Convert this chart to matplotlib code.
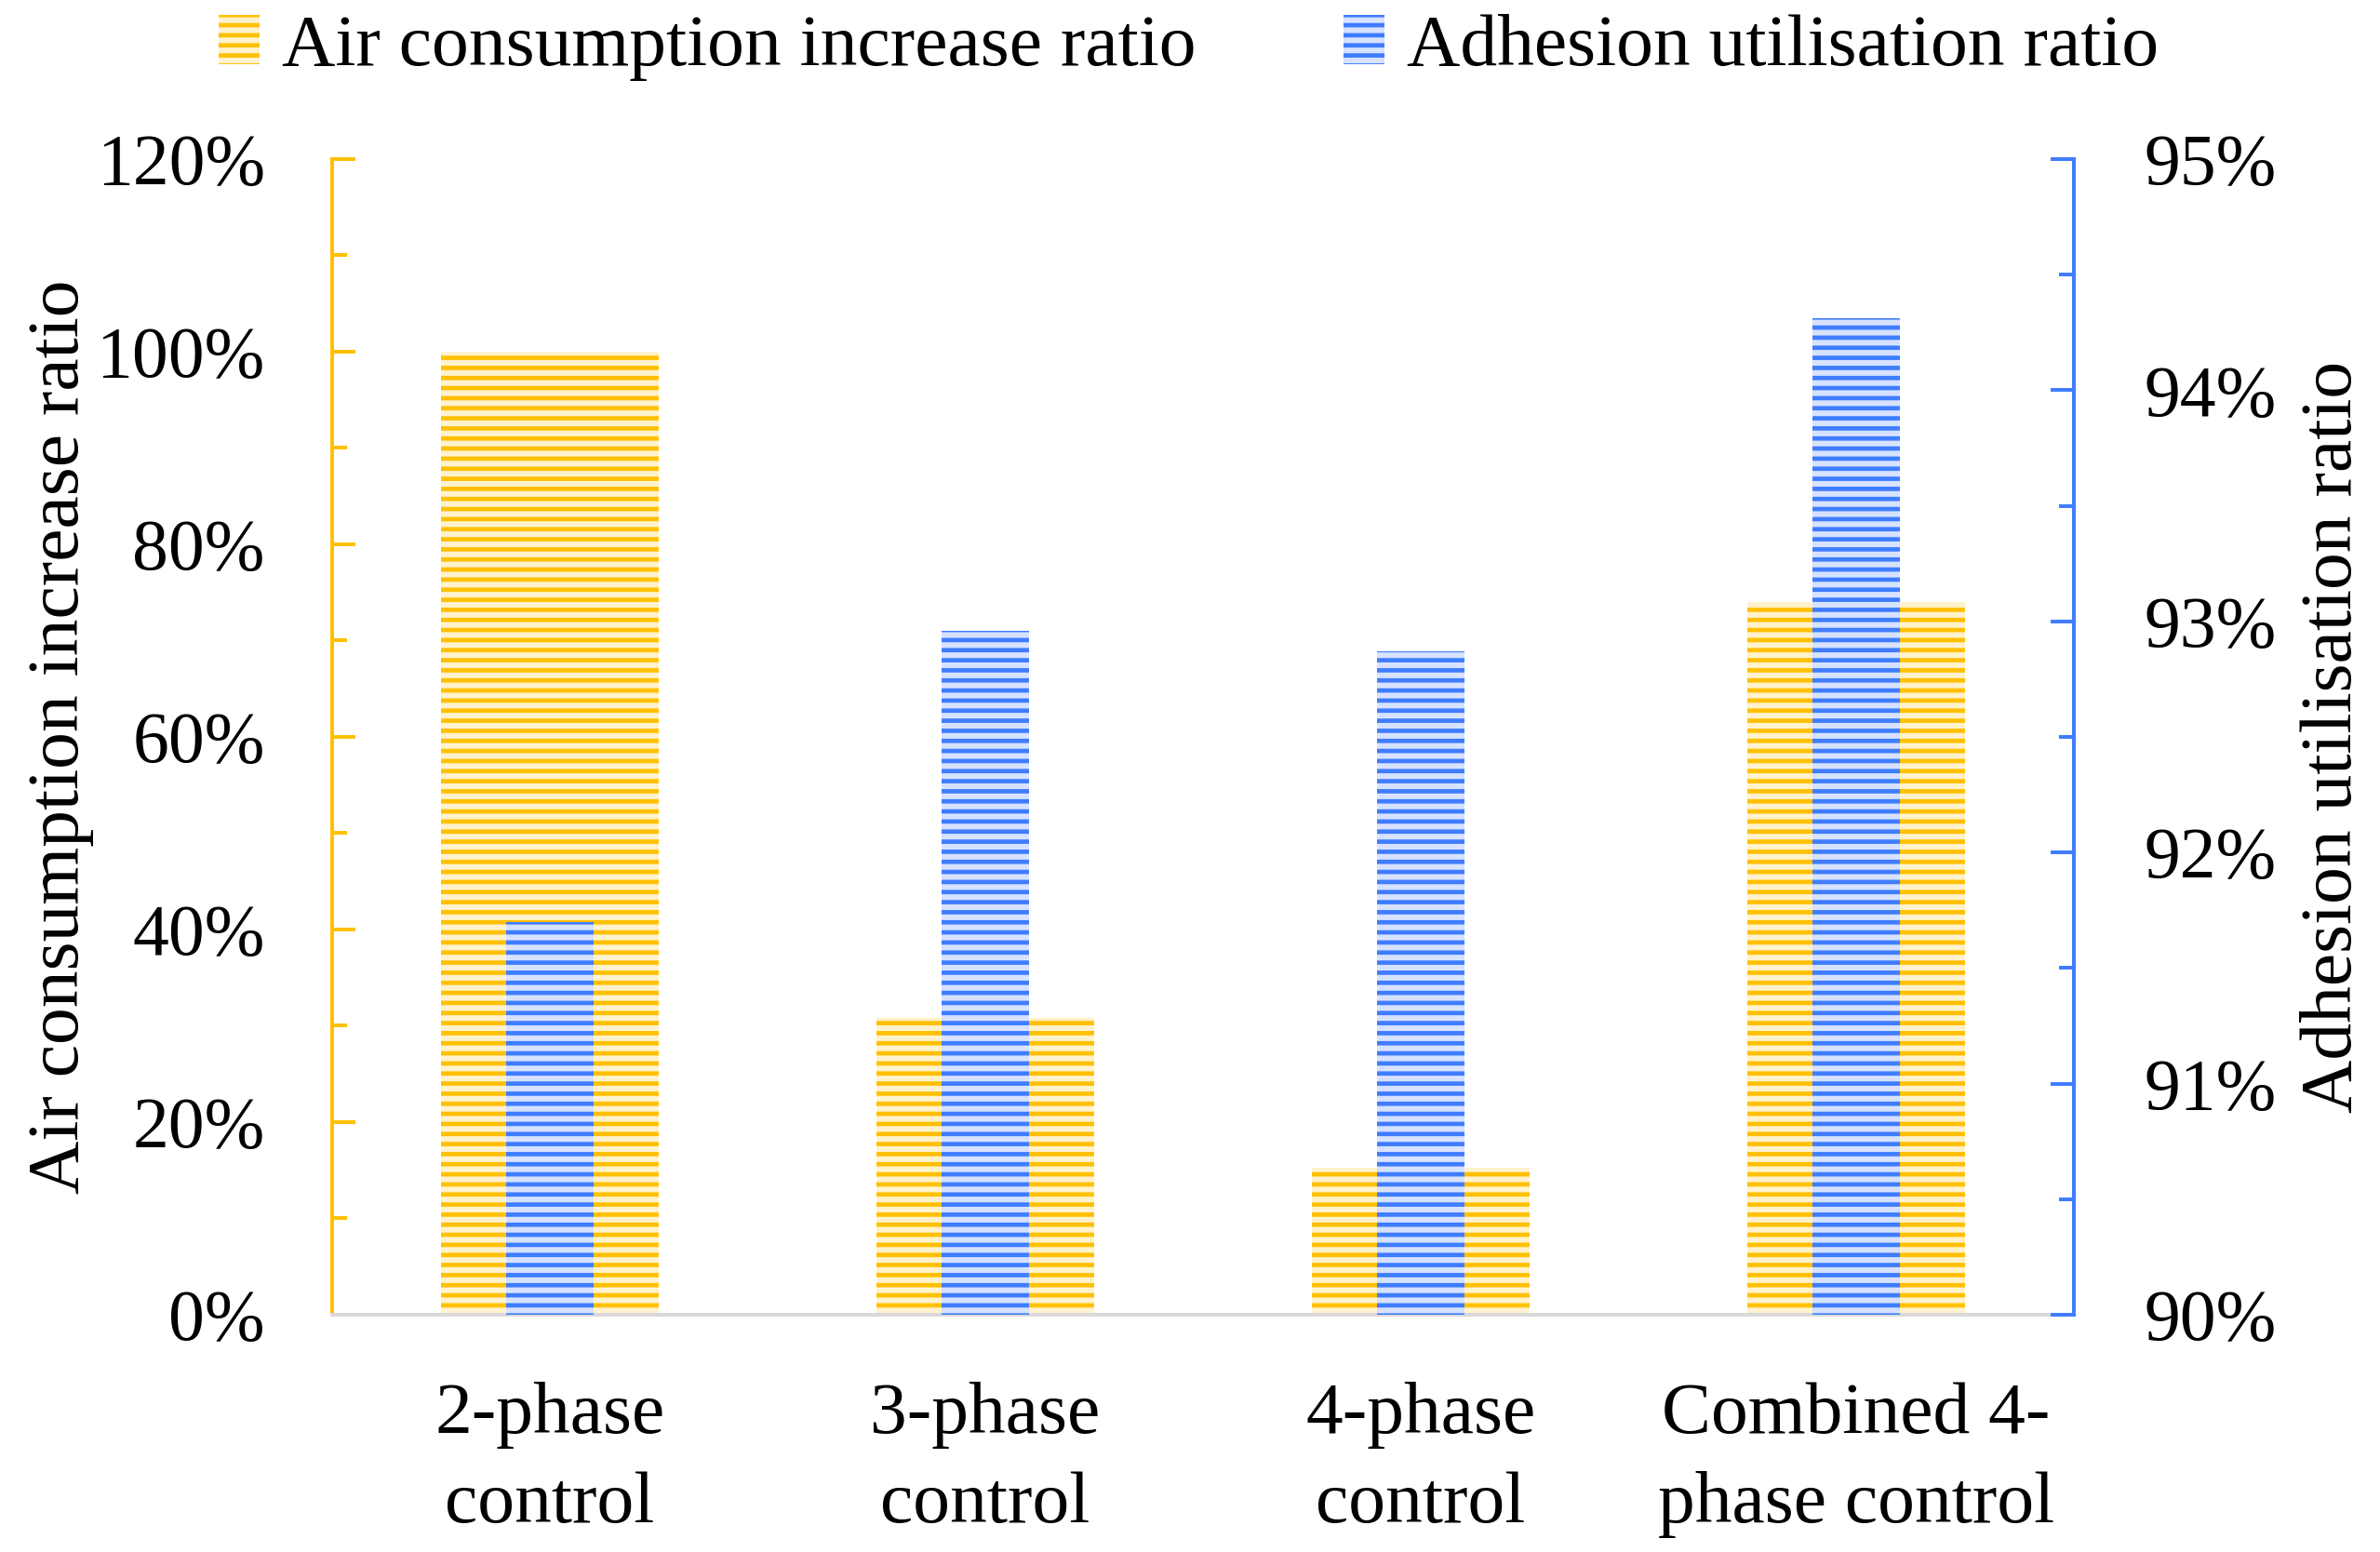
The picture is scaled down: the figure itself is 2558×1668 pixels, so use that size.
import matplotlib
matplotlib.use("Agg")
import matplotlib.pyplot as plt
from matplotlib.ticker import MultipleLocator, FuncFormatter
from matplotlib.patches import Patch
import numpy as np

plt.rcParams['font.family'] = ['Liberation Serif', 'DejaVu Serif']
plt.rcParams['hatch.linewidth'] = 2.6

categories = ["2-phase\ncontrol", "3-phase\ncontrol", "4-phase\ncontrol", "Combined 4-\nphase control"]
air_increase = [100.0, 30.8, 15.3, 74.0]        # %, left axis
adhesion_util = [91.70, 92.96, 92.87, 94.31]    # %, right axis

yellow, yellow_lt = "#FFC000", "#FFF2CC"
blue, blue_lt = "#3F7CFF", "#D6E2FF"
fs = 44
fs_tick = 43

dpi = 130
fig = plt.figure(figsize=(2558 / dpi, 1668 / dpi), dpi=dpi)
ax = fig.add_axes([0.1396, 0.1529, 0.8714 - 0.1396, 0.8975 - 0.1529])
ax2 = ax.twinx()

x = np.arange(len(categories))
ax.bar(x, air_increase, width=0.5, facecolor=yellow_lt, edgecolor=yellow,
       hatch="--", linewidth=0, zorder=2)
ax2.bar(x, adhesion_util, width=0.2, facecolor=blue_lt, edgecolor=blue,
        hatch="--", linewidth=0, zorder=3)

ax.set_xlim(-0.5, len(categories) - 0.5)
ax.set_ylim(0, 120)
ax2.set_ylim(90, 95)

pct = FuncFormatter(lambda v, p: f"{v:.0f}%")
ax.yaxis.set_major_locator(MultipleLocator(20))
ax.yaxis.set_minor_locator(MultipleLocator(10))
ax.yaxis.set_major_formatter(pct)
ax2.yaxis.set_major_locator(MultipleLocator(1))
ax2.yaxis.set_minor_locator(MultipleLocator(0.5))
ax2.yaxis.set_major_formatter(pct)

ax.tick_params(axis="y", which="both", direction="in", color=yellow, width=2.2,
               labelsize=fs_tick, pad=40)
ax.tick_params(axis="y", which="major", length=14)
ax.tick_params(axis="y", which="minor", length=9)
ax2.tick_params(axis="y", which="both", direction="in", color=blue, width=2.2,
                labelsize=fs_tick, pad=42)
ax2.tick_params(axis="y", which="major", length=14)
ax2.tick_params(axis="y", which="minor", length=9)

ax.set_xticks(x)
ax.set_xticklabels(categories, fontsize=fs, linespacing=1.45)
ax.tick_params(axis="x", length=0, pad=40)

for a in (ax, ax2):
    a.spines["top"].set_visible(False)
ax.spines["right"].set_visible(False)
ax.spines["left"].set_color(yellow)
ax.spines["left"].set_linewidth(2.2)
ax.spines["bottom"].set_color("#D9D9D9")
ax.spines["bottom"].set_linewidth(2.2)
ax2.spines["left"].set_visible(False)
ax2.spines["bottom"].set_visible(False)
ax2.spines["right"].set_color(blue)
ax2.spines["right"].set_linewidth(2.2)

ax.set_ylabel("Air consumption increase ratio", fontsize=fs)
ax2.set_ylabel("Adhesion utilisation ratio", fontsize=fs)
ax.yaxis.set_label_coords(-0.137, 0.5)
ax2.yaxis.set_label_coords(1.130, 0.5)

handles = [Patch(facecolor=yellow_lt, edgecolor=yellow, hatch="--", linewidth=0),
           Patch(facecolor=blue_lt, edgecolor=blue, hatch="--", linewidth=0)]
fig.legend(handles, ["Air consumption increase ratio", "Adhesion utilisation ratio"],
           loc="center", bbox_to_anchor=(0.4995, 0.969), ncol=2, frameon=False,
           fontsize=fs, handlelength=0.55, handleheight=0.65, handletextpad=0.3,
           columnspacing=2.0, borderpad=0, borderaxespad=0)

fig.savefig("out.png", dpi=dpi)
